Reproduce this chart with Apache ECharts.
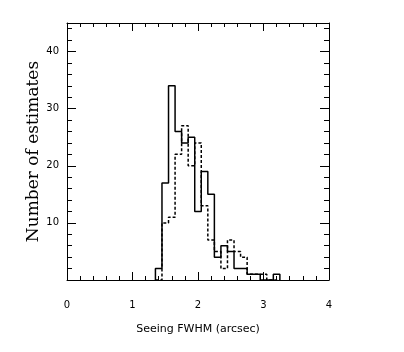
<!DOCTYPE html>
<html>
<head>
<meta charset="utf-8">
<script src="https://cdn.jsdelivr.net/npm/echarts@6/dist/echarts.min.js"></script>
<style>
  html, body { margin: 0; padding: 0; background: #fff; }
  #chart { width: 404px; height: 352px; }
</style>
</head>
<body>
<div id="chart"></div>
<script>
// histogram bins (arcsec), width 0.1
var binCenters = [1.4, 1.5, 1.6, 1.7, 1.8, 1.9, 2.0, 2.1, 2.2, 2.3, 2.4, 2.5, 2.6, 2.7, 2.8, 2.9, 3.0, 3.1, 3.2];
var solidCounts = [2, 17, 34, 26, 24, 25, 12, 19, 15, 4, 6, 5, 2, 2, 1, 1, 0, 0, 1];
var dashedCounts = [0, 10, 11, 22, 27, 20, 24, 13, 7, 5, 2, 7, 5, 4, 1, 1, 1, 0, 0];
var xTicks = [0, 1, 2, 3, 4];
var yTicks = [10, 20, 30, 40];
var binWidth = 0.1;

function stepData(counts) {
    var half = binWidth / 2;
    var pts = [[binCenters[0] - half, 0]];
    counts.forEach(function (c, i) {
        pts.push([binCenters[i] - half, c]);
    });
    pts.push([binCenters[binCenters.length - 1] + half, 0]);
    return pts;
}

var myChart = echarts.init(document.getElementById('chart'));

var labelFont = { color: '#000', fontFamily: 'DejaVu Sans', fontSize: 10 };

function xAxisOf(pos, withLabels) {
    return {
        type: 'value', position: pos, min: 0, max: 4, interval: 1,
        axisLine: { show: true, onZero: false, lineStyle: { color: '#000', width: 1 } },
        axisTick: { show: true, inside: true, length: 8, lineStyle: { color: '#000' } },
        minorTick: { show: true, splitNumber: 5, length: 4, lineStyle: { color: '#000' } },
        splitLine: { show: false },
        axisLabel: withLabels ? Object.assign({ margin: 20, formatter: function (v) {
            return xTicks.indexOf(v) >= 0 ? String(v) : '';
        } }, labelFont) : { show: false },
        name: withLabels ? 'Seeing FWHM (arcsec)' : '',
        nameLocation: 'middle',
        nameGap: 44,
        nameTextStyle: { color: '#000', fontFamily: 'DejaVu Sans', fontSize: 11 }
    };
}

function yAxisOf(pos, major, withLabels) {
    return {
        type: 'value', position: pos, min: 0, max: 45, interval: major ? 10 : 2,
        axisLine: { show: major, onZero: false, lineStyle: { color: '#000', width: 1 } },
        axisTick: { show: true, inside: true, length: major ? 9 : 5, lineStyle: { color: '#000' } },
        splitLine: { show: false },
        axisLabel: withLabels ? Object.assign({ margin: 8, formatter: function (v) {
            return yTicks.indexOf(v) >= 0 ? String(v) : '';
        } }, labelFont) : { show: false },
        name: withLabels ? 'Number of estimates' : '',
        nameLocation: 'middle',
        nameGap: 25,
        nameMoveOverlap: false,
        nameTextStyle: { color: '#000', fontFamily: 'DejaVu Serif', fontSize: 17 }
    };
}

var option = {
    backgroundColor: '#fff',
    animation: false,
    grid: { left: 67, right: 75, top: 23, bottom: 72 },
    xAxis: [xAxisOf('bottom', true), xAxisOf('top', false)],
    yAxis: [
        yAxisOf('left', true, true),
        yAxisOf('left', false, false),
        yAxisOf('right', true, false),
        yAxisOf('right', false, false)
    ],
    series: [
        {
            type: 'line', step: 'end', symbol: 'none', data: stepData(solidCounts),
            lineStyle: { color: '#000', width: 1.5 }
        },
        {
            type: 'line', step: 'end', symbol: 'none', data: stepData(dashedCounts),
            lineStyle: { color: '#000', width: 1.5, type: [3, 2] }
        }
    ]
};
myChart.setOption(option);
</script>
</body>
</html>
